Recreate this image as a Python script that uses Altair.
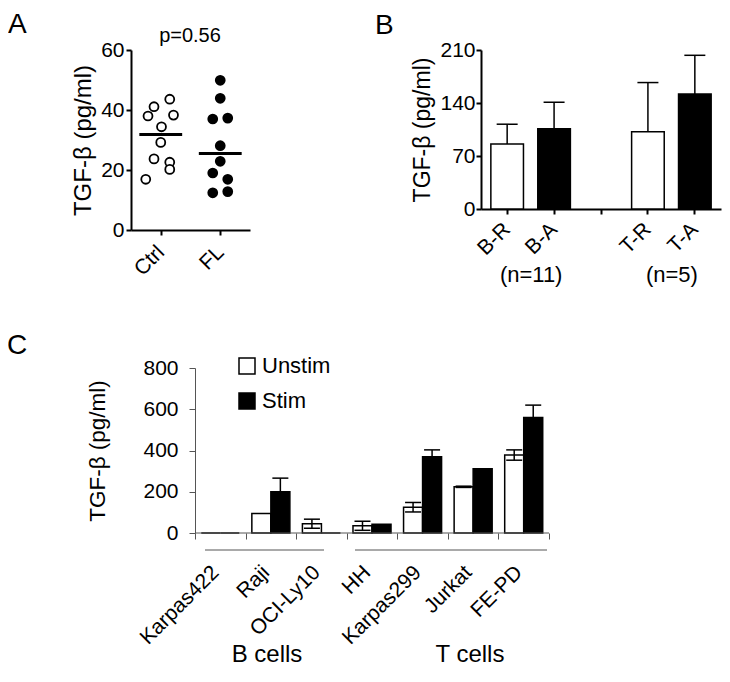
import altair as alt
import pandas as pd

FONT = "Liberation Sans"

# ---------------- Panel A data ----------------
a_groups = ["Ctrl", "FL"]
ctrl_values = [43.6, 41.1, 38.0, 38.3, 34.4, 29.2, 23.7, 22.6, 20.2, 16.9]
ctrl_column = [1.2, -0.9, -1.7, 1.7, 0.1, 0.0, -0.9, 1.2, 1.2, -2.0]
fl_values = [49.9, 43.9, 37.3, 37.0, 28.1, 22.9, 19.0, 16.9, 12.4, 12.8]
fl_column = [0.0, 0.0, 1.0, -1.0, 0.0, 0.0, -1.0, 1.0, -1.0, 1.0]
a_ticks = [0, 20, 40, 60]
a_pvalue = ["p=0.56"]

# ---------------- Panel B data ----------------
b_domain = ["B-R", "B-A", "gap", "T-R", "T-A"]
b_groups = ["B-R", "B-A", "T-R", "T-A"]
b_kind = ["R", "A", "R", "A"]
b_mean = [86, 106, 102, 152]
b_err = [26, 35, 65, 51]
b_ticks = [0, 70, 140, 210]
b_n_labels = ["(n=11)", "(n=5)"]
b_n_anchor = ["B-R", "T-R"]

# ---------------- Panel C data ----------------
c_lines = ["Karpas422", "Raji", "OCI-Ly10", "HH", "Karpas299", "Jurkat", "FE-PD"]
c_conditions = ["Unstim", "Stim"]
unstim_mean = [0, 95, 45, 35, 125, 224, 378]
unstim_err = [0, 0, 22, 22, 23, 3, 25]
stim_mean = [0, 200, 0, 43, 370, 311, 560]
stim_err = [0, 66, 0, 0, 33, 0, 60]
c_ticks = [0, 200, 400, 600, 800]
c_sections = ["B cells", "T cells"]

Y_TITLE = "TGF-\u03b2 (pg/ml)"

a_df = pd.DataFrame({
    "group": [a_groups[0]] * len(ctrl_values) + [a_groups[1]] * len(fl_values),
    "value": ctrl_values + fl_values,
    "column": ctrl_column + fl_column,
})
b_df = pd.DataFrame({"group": b_groups, "kind": b_kind, "mean": b_mean, "err": b_err})
c_df = pd.DataFrame({
    "line": c_lines * 2,
    "condition": [c_conditions[0]] * len(c_lines) + [c_conditions[1]] * len(c_lines),
    "mean": unstim_mean + stim_mean,
    "err": unstim_err + stim_err,
})


def black_axis(**kw):
    base = dict(domainColor="black", domainWidth=2, tickColor="black", tickWidth=2,
                tickSize=5, labelFontSize=21, titleFontSize=24, titleFontWeight="normal",
                labelColor="black", titleColor="black", grid=False, labelFont=FONT, titleFont=FONT)
    base.update(kw)
    return alt.Axis(**base)


def letter(ch, x, y):
    return alt.Chart(pd.DataFrame({"t": [ch]})).mark_text(
        fontSize=28, font=FONT, color="black", align="left", baseline="alphabetic"
    ).encode(text="t:N", x=alt.value(x), y=alt.value(y))


# ---------------- Panel A ----------------
a_pos = "(datum.group == 'Ctrl' ? 0.5 : 1.5)"
a_x = alt.Scale(domain=[0, 2], nice=False, zero=False)
a_y = alt.Scale(domain=[0, 60], nice=False)

a_points = alt.Chart(a_df).transform_calculate(
    pos=a_pos + " + datum.column * 0.126"
).mark_point(shape="circle", filled=True, stroke="black", strokeWidth=1.8, size=80, opacity=1).encode(
    x=alt.X("pos:Q", scale=a_x,
            axis=black_axis(values=[0.5, 1.5], labelExpr="datum.value < 1 ? 'Ctrl' : 'FL'",
                            labelAngle=-45, labelAlign="right", labelBaseline="middle",
                            labelPadding=14, title=None)),
    y=alt.Y("value:Q", scale=a_y,
            axis=black_axis(values=a_ticks, title=Y_TITLE, labelPadding=2, titlePadding=5)),
    fill=alt.condition("datum.group == 'Ctrl'", alt.value("white"), alt.value("black")),
)

a_median = alt.Chart(a_df).transform_aggregate(
    med="median(value)", groupby=["group"]
).transform_calculate(
    x1=a_pos + " - 0.36", x2=a_pos + " + 0.36"
).mark_rule(color="black", strokeWidth=3).encode(
    x=alt.X("x1:Q", scale=a_x), x2="x2:Q", y=alt.Y("med:Q", scale=a_y)
)

a_p = alt.Chart(pd.DataFrame({"t": a_pvalue})).mark_text(
    fontSize=20, font=FONT, color="black", align="center", baseline="alphabetic"
).encode(text="t:N", x=alt.value(59), y=alt.value(-8))

panel_a = alt.layer(a_points, a_median, a_p, letter("A", -123, -17)).properties(width=119, height=180)

# ---------------- Panel B ----------------
b_x = alt.Scale(domain=b_domain, paddingInner=0.305, paddingOuter=0.21)
b_y = alt.Scale(domain=[0, 210], nice=False)

b_bars = alt.Chart(b_df).mark_bar(stroke="black", strokeWidth=1.5).encode(
    x=alt.X("group:N", scale=b_x, sort=b_domain,
            axis=black_axis(labelExpr="datum.value == 'gap' ? '' : datum.value",
                            labelAngle=-45, labelAlign="right", labelBaseline="middle",
                            labelPadding=12, title=None)),
    y=alt.Y("mean:Q", scale=b_y, axis=black_axis(values=b_ticks, title=Y_TITLE, titleFontSize=23,
                                                 labelPadding=1, titlePadding=5)),
    fill=alt.condition("datum.kind == 'R'", alt.value("white"), alt.value("black")),
)
b_err_rule = alt.Chart(b_df).transform_calculate(top="datum.mean + datum.err").mark_rule(
    color="black", strokeWidth=1.5).encode(
    x=alt.X("group:N", scale=b_x, sort=b_domain), y=alt.Y("mean:Q", scale=b_y), y2="top:Q")
b_err_cap = alt.Chart(b_df).transform_calculate(top="datum.mean + datum.err").mark_tick(
    color="black", thickness=1.5, size=21, opacity=1).encode(
    x=alt.X("group:N", scale=b_x, sort=b_domain), y=alt.Y("top:Q", scale=b_y))
b_n = alt.Chart(pd.DataFrame({"t": b_n_labels, "g": b_n_anchor})).mark_text(
    fontSize=22, font=FONT, color="black", align="center", baseline="alphabetic", dx=24
).encode(text="t:N", x=alt.X("g:N", scale=b_x, sort=b_domain), y=alt.value(232))

panel_b = alt.layer(b_bars, b_err_rule, b_err_cap, b_n, letter("B", -106, -16)).properties(
    width=240, height=159)

# ---------------- Panel C ----------------
# plot area starts at panel A's left edge; bars and y-axis start 64px further right
GRAY = "#555555"
C_LEFT = 64
C_W = 418
c_x = alt.Scale(domain=c_lines, range=[C_LEFT, C_W], paddingInner=0, paddingOuter=0)
c_off = alt.Scale(domain=c_conditions, paddingInner=0, paddingOuter=0.33)
c_y = alt.Scale(domain=[0, 800], nice=False)

c_bars = alt.Chart(c_df).mark_bar(stroke="black", strokeWidth=1.5).encode(
    x=alt.X("line:N", scale=c_x, sort=c_lines,
            axis=alt.Axis(domain=False, tickColor=GRAY, tickWidth=1, tickSize=6,
                          tickBand="extent", labelAngle=-45, labelAlign="right", labelBaseline="middle",
                          labelPadding=30, labelOffset=-5, labelFontSize=21, labelColor="black",
                          labelFont=FONT, title=None, grid=False)),
    xOffset=alt.XOffset("condition:N", scale=c_off, sort=c_conditions),
    y=alt.Y("mean:Q", scale=c_y,
            axis=alt.Axis(values=c_ticks, offset=-C_LEFT, domainColor=GRAY, domainWidth=1, tickColor=GRAY,
                          tickWidth=1, tickSize=6, labelFontSize=21, labelColor="black", labelFont=FONT,
                          labelPadding=11, title=Y_TITLE, titleFontSize=22.5, titleFont=FONT,
                          titleFontWeight="normal", titleColor="black", titlePadding=33, grid=False)),
    fill=alt.Fill("condition:N", scale=alt.Scale(domain=c_conditions, range=["white", "black"]),
                  legend=alt.Legend(orient="none", legendX=C_LEFT + 41, legendY=-13, title=None,
                                    symbolType="square", symbolSize=256, symbolStrokeColor="black",
                                    symbolStrokeWidth=1.5, labelFontSize=22, labelFont=FONT,
                                    labelColor="black", rowPadding=13, labelOffset=4)),
)
c_err_df = alt.Chart(c_df).transform_filter("datum.err > 0").transform_calculate(
    lo="datum.mean - datum.err", hi="datum.mean + datum.err")
c_err_rule = c_err_df.mark_rule(color="black", strokeWidth=1.5).encode(
    x=alt.X("line:N", scale=c_x, sort=c_lines),
    xOffset=alt.XOffset("condition:N", scale=c_off, sort=c_conditions),
    y=alt.Y("lo:Q", scale=c_y), y2="hi:Q")
c_cap_hi = c_err_df.mark_tick(color="black", thickness=1.5, size=16, opacity=1).encode(
    x=alt.X("line:N", scale=c_x, sort=c_lines),
    xOffset=alt.XOffset("condition:N", scale=c_off, sort=c_conditions),
    y=alt.Y("hi:Q", scale=c_y))
c_cap_lo = c_err_df.mark_tick(color="black", thickness=1.5, size=16, opacity=1).encode(
    x=alt.X("line:N", scale=c_x, sort=c_lines),
    xOffset=alt.XOffset("condition:N", scale=c_off, sort=c_conditions),
    y=alt.Y("lo:Q", scale=c_y))

c_baseline = alt.Chart(pd.DataFrame({"s": ["axis"]})).mark_rule(color=GRAY, strokeWidth=1).encode(
    x=alt.value(C_LEFT), x2=alt.value(C_W), y=alt.value(165))
c_line_b = alt.Chart(pd.DataFrame({"s": [c_sections[0]]})).mark_rule(color=GRAY, strokeWidth=1).encode(
    x=alt.value(C_LEFT + 10), x2=alt.value(C_LEFT + 129), y=alt.value(182))
c_line_t = alt.Chart(pd.DataFrame({"s": [c_sections[1]]})).mark_rule(color=GRAY, strokeWidth=1).encode(
    x=alt.value(C_LEFT + 160), x2=alt.value(C_LEFT + 352), y=alt.value(182))
c_text_b = alt.Chart(pd.DataFrame({"s": [c_sections[0]]})).mark_text(
    fontSize=24, font=FONT, color="black", align="center", baseline="alphabetic").encode(
    text="s:N", x=alt.value(C_LEFT + 72), y=alt.value(294))
c_text_t = alt.Chart(pd.DataFrame({"s": [c_sections[1]]})).mark_text(
    fontSize=24, font=FONT, color="black", align="center", baseline="alphabetic").encode(
    text="s:N", x=alt.value(C_LEFT + 275), y=alt.value(294))

panel_c = alt.layer(c_bars, c_err_rule, c_cap_hi, c_cap_lo, c_baseline, c_line_b, c_line_t,
                    c_text_b, c_text_t, letter("C", -124, -14)).properties(width=C_W, height=165)

top = alt.hconcat(panel_a, panel_b, spacing=125)
chart = alt.vconcat(top, panel_c, spacing=46).resolve_legend(fill="independent").resolve_scale(
    fill="independent").properties(
    autosize=alt.AutoSizeParams(type="none"),
    padding={"left": 123, "top": 42, "right": 591, "bottom": 618},
).configure(font=FONT).configure_view(stroke=None)

chart.save("out.html", embed_options={"renderer": "svg", "actions": False})
